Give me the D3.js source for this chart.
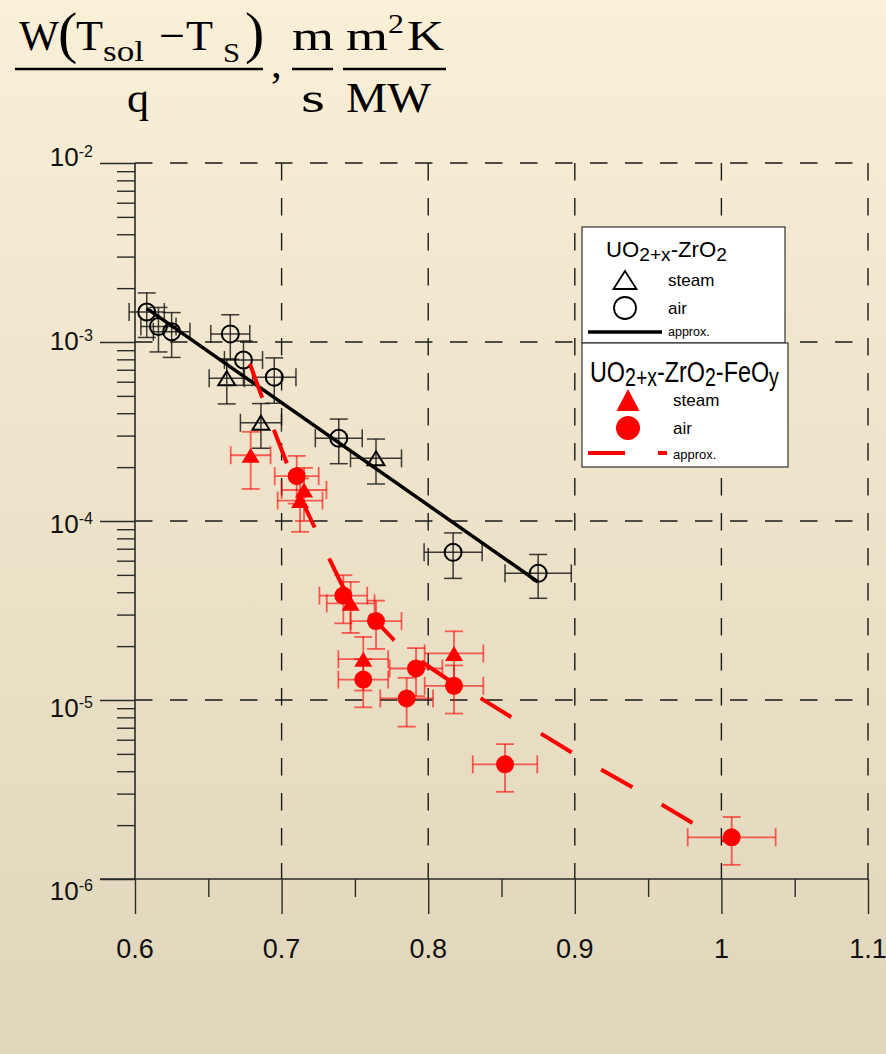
<!DOCTYPE html>
<html><head><meta charset="utf-8">
<script src="https://cdn.jsdelivr.net/npm/d3@7"></script>
<style>html,body{margin:0;padding:0;background:#f0e6cc;} svg{display:block;}</style>
</head><body>
<script>
// ---------- data ----------
const xTicks = [0.6, 0.7, 0.8, 0.9, 1.0, 1.1];
const xTickLabels = ["0.6", "0.7", "0.8", "0.9", "1", "1.1"];
const xMinorTicks = [0.65, 0.75, 0.85, 0.95, 1.05];
const yDecades = [1e-6, 1e-5, 1e-4, 1e-3, 1e-2];
const yTickExponents = ["-6", "-5", "-4", "-3", "-2"];

// UO2+x-ZrO2 : air (open circles)
const zrAirX    = [0.608, 0.616, 0.625, 0.665, 0.674, 0.695, 0.739, 0.817, 0.875];
const zrAirY    = [1.47e-3, 1.22e-3, 1.14e-3, 1.11e-3, 7.93e-4, 6.35e-4, 2.90e-4, 6.68e-5, 5.10e-5];
const zrAirXErr = [0.012, 0.012, 0.0125, 0.0133, 0.013, 0.0148, 0.016, 0.0198, 0.0226];
const zrAirYErr = [4.1e-4, 3.4e-4, 3.2e-4, 3.1e-4, 2.2e-4, 1.8e-4, 8.1e-5, 1.9e-5, 1.4e-5];
// UO2+x-ZrO2 : steam (open triangles)
const zrSteamX    = [0.6626, 0.6859, 0.7644];
const zrSteamY    = [6.27e-4, 3.54e-4, 2.24e-4];
const zrSteamXErr = [0.012, 0.014, 0.0174];
const zrSteamYErr = [1.76e-4, 0.99e-4, 0.63e-4];
// UO2+x-ZrO2 : approximation
const zrApproxX = [0.608, 0.8747];
const zrApproxY = [1.54e-3, 4.58e-5];

// UO2+x-ZrO2-FeOy : air (filled circles)
const feAirX    = [0.7103, 0.7421, 0.7644, 0.7917, 0.7557, 0.7853, 0.8176, 0.8524, 1.0070];
const feAirY    = [1.78e-4, 3.83e-5, 2.76e-5, 1.50e-5, 1.30e-5, 1.02e-5, 1.20e-5, 4.37e-6, 1.71e-6];
const feAirXErr = [0.015, 0.0163, 0.0174, 0.018, 0.017, 0.018, 0.02, 0.022, 0.03];
const feAirYErr = [5.3e-5, 1.15e-5, 0.83e-5, 0.45e-5, 0.39e-5, 0.31e-5, 0.36e-5, 1.3e-6, 0.51e-6];
// UO2+x-ZrO2-FeOy : steam (filled triangles)
const feSteamX    = [0.6789, 0.7153, 0.7126, 0.7471, 0.7557, 0.8176];
const feSteamY    = [2.33e-4, 1.49e-4, 1.30e-4, 3.47e-5, 1.69e-5, 1.82e-5];
const feSteamXErr = [0.0136, 0.0153, 0.0153, 0.0163, 0.017, 0.02];
const feSteamYErr = [8.2e-5, 4.9e-5, 4.3e-5, 1.1e-5, 0.56e-5, 0.6e-5];
// UO2+x-ZrO2-FeOy : approximation
const feApproxX = [0.6784, 0.6948, 0.7112, 0.7323, 0.7419, 0.7644, 0.7767, 0.7958, 0.8142,
                   0.8353, 0.8565, 0.8763, 0.8974, 0.9172, 0.9390, 0.9588, 0.9800, 1.0025];
const feApproxY = [7.54e-4, 3.22e-4, 1.45e-4, 6.21e-5, 4.28e-5, 2.76e-5, 2.16e-5, 1.63e-5, 1.29e-5,
                   1.03e-5, 8.04e-6, 6.54e-6, 5.12e-6, 4.12e-6, 3.27e-6, 2.62e-6, 2.06e-6, 1.63e-6];

// ---------- layout ----------
const W = 886, H = 1054;
const svg = d3.select("body").append("svg").attr("width", W).attr("height", H);
const defs = svg.append("defs");
const grad = defs.append("linearGradient").attr("id", "bg").attr("x1", 0).attr("y1", 0).attr("x2", 0).attr("y2", 1);
grad.append("stop").attr("offset", "0%").attr("stop-color", "#faefd7");
grad.append("stop").attr("offset", "100%").attr("stop-color", "#e0d6bb");
svg.append("rect").attr("width", W).attr("height", H).attr("fill", "url(#bg)");

const x = d3.scaleLinear().domain([0.6, 1.1]).range([135, 868]);
const y = d3.scaleLog().domain([1e-6, 1e-2]).range([879, 163]);
const yLabel = d3.scaleLog().domain([1e-6, 1e-2]).range([900, 166]);

const axisColor = "#2a2a2a";

// gridlines (dashed)
const grid = svg.append("g").attr("stroke", "#1a1a1a").attr("stroke-width", 1.4)
  .attr("stroke-dasharray", "17.5,17.5").attr("fill", "none");
grid.selectAll("line.v").data(xTicks.slice(1)).join("line")
  .attr("x1", d => x(d)).attr("x2", d => x(d)).attr("y1", y(1e-2)).attr("y2", y(1e-6));
grid.selectAll("line.h").data(yDecades.slice(1)).join("line")
  .attr("x1", x(0.6)).attr("x2", x(1.1)).attr("y1", d => y(d)).attr("y2", d => y(d));

// axes with d3 axis generators
const minorY = [];
yDecades.slice(0, -1).forEach(d => { for (let k = 2; k <= 9; k++) minorY.push(d * k); });

const yAxisMajor = d3.axisLeft(y).tickValues(yDecades).tickSize(35).tickFormat("");
const yAxisMinor = d3.axisLeft(y).tickValues(minorY).tickSize(18).tickFormat("");
const xAxisMajor = d3.axisBottom(x).tickValues(xTicks).tickSize(35).tickFormat("");
const xAxisMinor = d3.axisBottom(x).tickValues(xMinorTicks).tickSize(18).tickFormat("");

function styleAxis(g) {
  g.select(".domain").remove();
  g.selectAll("line").attr("stroke", axisColor).attr("stroke-width", 1.4);
}
svg.append("g").attr("transform", `translate(${x(0.6)},0)`).call(yAxisMajor).call(styleAxis);
svg.append("g").attr("transform", `translate(${x(0.6)},0)`).call(yAxisMinor).call(styleAxis);
svg.append("g").attr("transform", `translate(0,${y(1e-6)})`).call(xAxisMajor).call(styleAxis);
svg.append("g").attr("transform", `translate(0,${y(1e-6)})`).call(xAxisMinor).call(styleAxis);

// axis lines
svg.append("line").attr("x1", x(0.6)).attr("x2", x(0.6)).attr("y1", y(1e-2)).attr("y2", y(1e-6))
  .attr("stroke", axisColor).attr("stroke-width", 1.6);
svg.append("line").attr("x1", x(0.6) - 35).attr("x2", x(1.1)).attr("y1", y(1e-6)).attr("y2", y(1e-6))
  .attr("stroke", axisColor).attr("stroke-width", 1.6);

// tick labels
svg.append("g").selectAll("text").data(xTicks).join("text")
  .attr("x", d => x(d)).attr("y", 958).attr("text-anchor", "middle")
  .attr("font-family", "Liberation Sans, Arial, sans-serif").attr("font-size", 27).attr("fill", "#111")
  .text((d, i) => xTickLabels[i]);

const yl = svg.append("g").selectAll("text").data(yDecades).join("text")
  .attr("x", 93).attr("y", d => yLabel(d)).attr("text-anchor", "end")
  .attr("font-family", "Liberation Sans, Arial, sans-serif").attr("fill", "#111");
yl.append("tspan").attr("font-size", 26).text("10");
yl.append("tspan").attr("font-size", 16).attr("dy", -9).text((d, i) => yTickExponents[i]);

// ---------- marks ----------
function errorBars(g, xs, ys, xe, ye, color, opacity, width) {
  const data = xs.map((v, i) => ({ x: v, y: ys[i], xe: xe[i], ye: ye[i] }));
  const cap = 9;
  const gg = g.append("g").attr("stroke", color).attr("stroke-opacity", opacity).attr("stroke-width", width);
  gg.selectAll("line.hx").data(data).join("line")
    .attr("x1", d => x(d.x - d.xe)).attr("x2", d => x(d.x + d.xe)).attr("y1", d => y(d.y)).attr("y2", d => y(d.y));
  gg.selectAll("line.vy").data(data).join("line")
    .attr("x1", d => x(d.x)).attr("x2", d => x(d.x)).attr("y1", d => y(d.y + d.ye)).attr("y2", d => y(d.y - d.ye));
  gg.selectAll("line.cl").data(data).join("line")
    .attr("x1", d => x(d.x - d.xe)).attr("x2", d => x(d.x - d.xe)).attr("y1", d => y(d.y) - cap).attr("y2", d => y(d.y) + cap);
  gg.selectAll("line.cr").data(data).join("line")
    .attr("x1", d => x(d.x + d.xe)).attr("x2", d => x(d.x + d.xe)).attr("y1", d => y(d.y) - cap).attr("y2", d => y(d.y) + cap);
  gg.selectAll("line.ct").data(data).join("line")
    .attr("x1", d => x(d.x) - cap).attr("x2", d => x(d.x) + cap).attr("y1", d => y(d.y + d.ye)).attr("y2", d => y(d.y + d.ye));
  gg.selectAll("line.cb").data(data).join("line")
    .attr("x1", d => x(d.x) - cap).attr("x2", d => x(d.x) + cap).attr("y1", d => y(d.y - d.ye)).attr("y2", d => y(d.y - d.ye));
}
function triPath(w, h) { return `M0,${-h / 2}L${w / 2},${h / 2}L${-w / 2},${h / 2}Z`; }

const plot = svg.append("g");
// black series
errorBars(plot, zrAirX, zrAirY, zrAirXErr, zrAirYErr, "#1a1a1a", 0.85, 1.5);
errorBars(plot, zrSteamX, zrSteamY, zrSteamXErr, zrSteamYErr, "#1a1a1a", 0.85, 1.5);
plot.append("g").selectAll("circle").data(zrAirX).join("circle")
  .attr("cx", d => x(d)).attr("cy", (d, i) => y(zrAirY[i])).attr("r", 8.5)
  .attr("fill", "none").attr("stroke", "#000").attr("stroke-width", 2);
plot.append("g").selectAll("path").data(zrSteamX).join("path")
  .attr("transform", (d, i) => `translate(${x(d)},${y(zrSteamY[i])})`).attr("d", triPath(17, 14))
  .attr("fill", "none").attr("stroke", "#000").attr("stroke-width", 2).attr("stroke-linejoin", "miter");
plot.append("path").datum(zrApproxX.map((v, i) => [v, zrApproxY[i]]))
  .attr("d", d3.line().x(d => x(d[0])).y(d => y(d[1])))
  .attr("fill", "none").attr("stroke", "#000").attr("stroke-width", 3.5);

// red series
errorBars(plot, feAirX, feAirY, feAirXErr, feAirYErr, "#ff0000", 0.6, 1.8);
errorBars(plot, feSteamX, feSteamY, feSteamXErr, feSteamYErr, "#ff0000", 0.6, 1.8);
plot.append("path").datum(feApproxX.map((v, i) => [v, feApproxY[i]]))
  .attr("d", d3.line().x(d => x(d[0])).y(d => y(d[1])))
  .attr("fill", "none").attr("stroke", "#ff0000").attr("stroke-width", 4)
  .attr("stroke-dasharray", "36,34");
plot.append("g").selectAll("circle").data(feAirX).join("circle")
  .attr("cx", d => x(d)).attr("cy", (d, i) => y(feAirY[i])).attr("r", 9).attr("fill", "#ff0000");
plot.append("g").selectAll("path").data(feSteamX).join("path")
  .attr("transform", (d, i) => `translate(${x(d)},${y(feSteamY[i])})`).attr("d", triPath(18, 15))
  .attr("fill", "#ff0000");

// ---------- legend ----------
const sans = "Liberation Sans, Arial, sans-serif";
const lg = svg.append("g");
lg.append("rect").attr("x", 582).attr("y", 227).attr("width", 203).attr("height", 116)
  .attr("fill", "#fff").attr("stroke", "#333").attr("stroke-width", 1.2);
lg.append("rect").attr("x", 582).attr("y", 343).attr("width", 206).attr("height", 124)
  .attr("fill", "#fff").attr("stroke", "#333").attr("stroke-width", 1.2);

function chemTitle(parent, xx, yy, parts, big, small, targetW) {
  const t = parent.append("text").attr("x", xx).attr("y", yy).attr("font-family", sans).attr("fill", "#000");
  parts.forEach(p => {
    t.append("tspan").attr("font-size", p.sub ? small : big).attr("dy", p.sub ? 4 : (p.back ? -4 : 0)).text(p.t);
  });
  if (targetW) {
    const w = t.node().getComputedTextLength();
    t.attr("transform", `translate(${xx},0) scale(${targetW / w},1) translate(${-xx},0)`);
  }
  return t;
}
chemTitle(lg, 606, 257, [{ t: "UO" }, { t: "2+x", sub: true }, { t: "-ZrO", back: true }, { t: "2", sub: true }], 22, 19, 121);
chemTitle(lg, 590, 382, [{ t: "UO" }, { t: "2+x", sub: true }, { t: "-ZrO", back: true }, { t: "2", sub: true },
  { t: "-FeO", back: true }, { t: "y", sub: true }], 30, 25, 189);

lg.append("path").attr("transform", "translate(625,280)").attr("d", triPath(23, 18))
  .attr("fill", "none").attr("stroke", "#000").attr("stroke-width", 1.8);
lg.append("circle").attr("cx", 625).attr("cy", 308).attr("r", 11)
  .attr("fill", "none").attr("stroke", "#000").attr("stroke-width", 1.8);
lg.append("line").attr("x1", 588).attr("x2", 662).attr("y1", 332).attr("y2", 332)
  .attr("stroke", "#000").attr("stroke-width", 3.5);
lg.append("text").attr("x", 668).attr("y", 286).attr("font-family", sans).attr("font-size", 17).text("steam");
lg.append("text").attr("x", 668).attr("y", 314).attr("font-family", sans).attr("font-size", 17).text("air");
lg.append("text").attr("x", 668).attr("y", 336).attr("font-family", sans).attr("font-size", 12.5).text("approx.");

lg.append("path").attr("transform", "translate(628,400)").attr("d", triPath(23, 22)).attr("fill", "#ff0000");
lg.append("circle").attr("cx", 628).attr("cy", 428).attr("r", 12).attr("fill", "#ff0000");
lg.append("line").attr("x1", 588).attr("x2", 667).attr("y1", 453).attr("y2", 453)
  .attr("stroke", "#ff0000").attr("stroke-width", 4).attr("stroke-dasharray", "37,33");
lg.append("text").attr("x", 673).attr("y", 406).attr("font-family", sans).attr("font-size", 17).text("steam");
lg.append("text").attr("x", 673).attr("y", 434).attr("font-family", sans).attr("font-size", 17).text("air");
lg.append("text").attr("x", 673).attr("y", 459).attr("font-family", sans).attr("font-size", 13).text("approx.");

// ---------- title (formula) ----------
const serif = "Liberation Serif, Times New Roman, serif";
const tt = svg.append("g").attr("font-family", serif).attr("fill", "#000");
function tx(xx, yy, s, fs, len) {
  const t = tt.append("text").attr("x", xx).attr("y", yy).attr("font-size", fs).text(s);
  if (len) t.attr("textLength", len).attr("lengthAdjust", "spacingAndGlyphs");
  return t;
}
tx(19, 50, "W", 43, 40);
tx(58, 51.7, "(", 58);
tx(76, 50, "T", 43, 27);
tx(103, 61, "sol", 29, 41);
tx(159, 50, "\u2212", 43, 26);
tx(186, 50, "T", 43, 27);
tx(223, 62, "S", 28, 17);
tx(245, 51.7, ")", 58);
tt.append("line").attr("x1", 15).attr("x2", 263).attr("y1", 69).attr("y2", 69).attr("stroke", "#000").attr("stroke-width", 2.5);
tx(127, 112, "q", 43, 22);
tx(271, 77, ",", 43);
tx(292, 50, "m", 43, 42);
tt.append("line").attr("x1", 292).attr("x2", 333).attr("y1", 69).attr("y2", 69).attr("stroke", "#000").attr("stroke-width", 2.5);
tx(301, 112, "s", 43, 24);
tx(346, 50, "m", 43, 42);
tx(388, 33, "2", 28, 16);
tx(407, 50, "K", 43, 37);
tt.append("line").attr("x1", 343).attr("x2", 446).attr("y1", 69).attr("y2", 69).attr("stroke", "#000").attr("stroke-width", 2.5);
tx(346, 112, "MW", 43, 85);
</script>
</body></html>
